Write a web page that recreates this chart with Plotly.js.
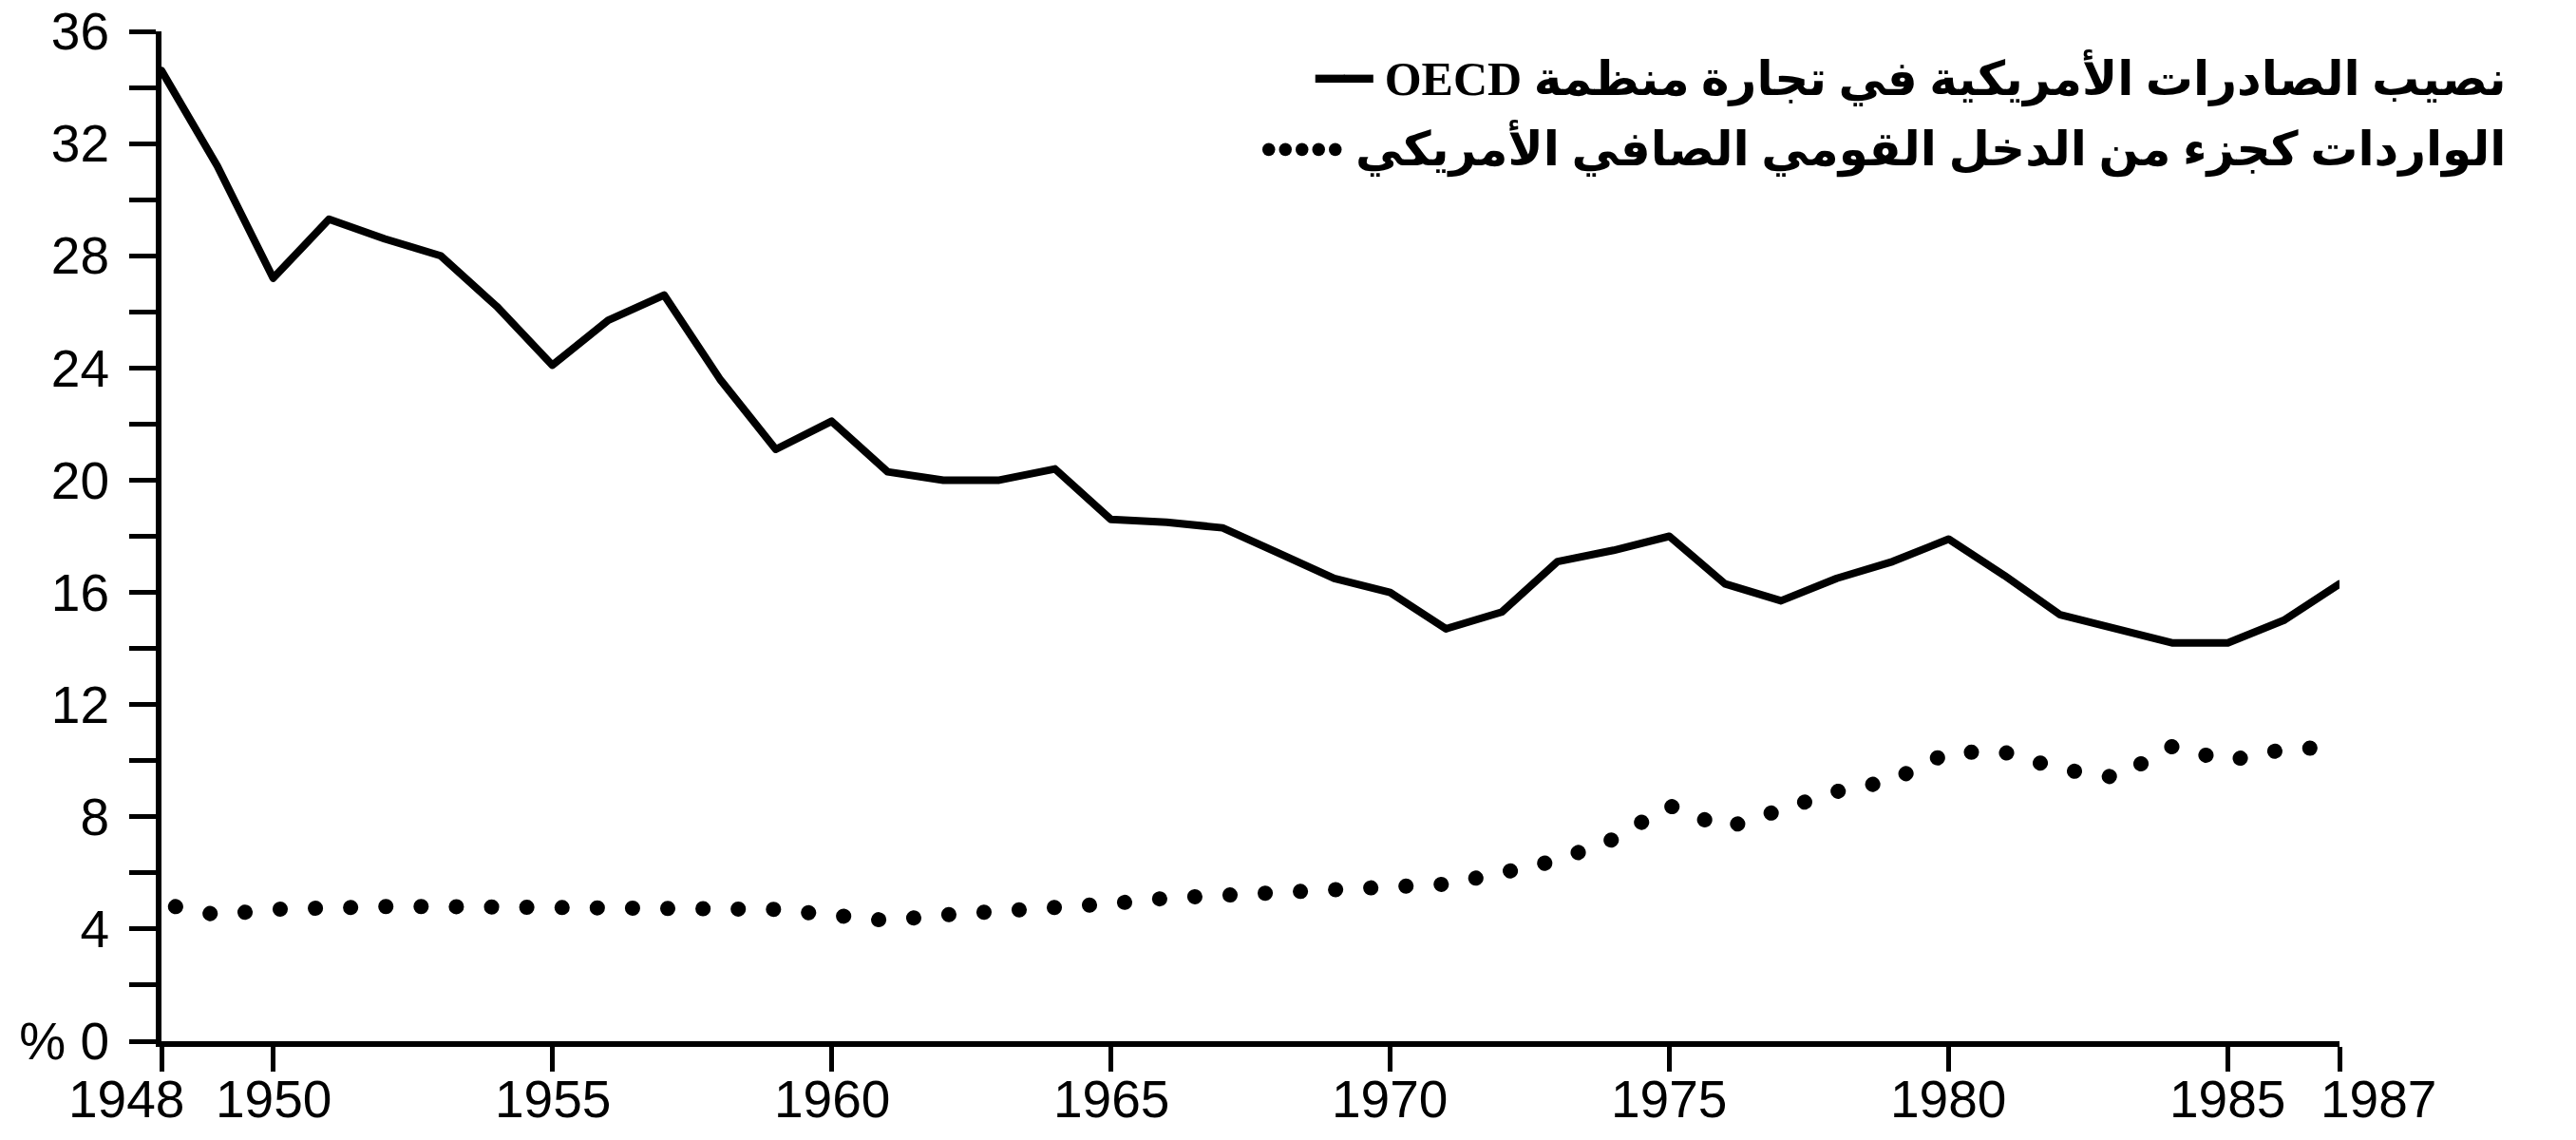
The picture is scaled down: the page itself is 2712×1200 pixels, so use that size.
<!DOCTYPE html>
<html><head><meta charset="utf-8">
<script src="https://cdn.plot.ly/plotly-3.0.1.min.js"></script>
<style>
html,body{margin:0;padding:0;background:#fff;}
#chart{width:2712px;height:1200px;}
.scatterlayer .js-line{stroke-linecap:round;stroke-linejoin:round;}
.scatterlayer .trace:nth-child(2) .js-line{stroke-dashoffset:22px;}
</style></head><body><div id="chart"></div>
<script>
const years = [1948,1949,1950,1951,1952,1953,1954,1955,1956,1957,1958,1959,1960,1961,1962,1963,1964,1965,1966,1967,1968,1969,1970,1971,1972,1973,1974,1975,1976,1977,1978,1979,1980,1981,1982,1983,1984,1985,1986,1987];
const exportShare = [34.6,31.2,27.2,29.3,28.6,28.0,26.2,24.1,25.7,26.6,23.6,21.1,22.1,20.3,20.0,20.0,20.4,18.6,18.5,18.3,17.4,16.5,16.0,14.7,15.3,17.1,17.5,18.0,16.3,15.7,16.5,17.1,17.9,16.6,15.2,14.7,14.2,14.2,15.0,16.3];
const importShare = [4.9,4.5,4.7,4.8,4.8,4.8,4.8,4.7,4.8,4.7,4.7,4.7,4.5,4.3,4.5,4.6,4.7,4.9,5.1,5.2,5.3,5.4,5.5,5.6,6.0,6.45,7.2,8.4,7.6,8.3,8.9,9.3,10.3,10.3,9.7,9.4,10.5,10.0,10.4,10.5];
const xTickVals = [1948,1950,1955,1960,1965,1970,1975,1980,1985,1987];
const xTickText = ['1948','1950','1955','1960','1965','1970','1975','1980','1985','1987'];
const yTickVals = [0,4,8,12,16,20,24,28,32,36];
const yTickText = ['% 0','4','8','12','16','20','24','28','32','36'];
const legendExports = '━━ OECD نصيب الصادرات الأمريكية في تجارة منظمة';
const legendImports = '••••• الواردات كجزء من الدخل القومي الصافي الأمريكي';

const traces = [
  {x: years, y: exportShare, type: 'scatter', mode: 'lines', name: legendExports,
   line: {color: '#000', width: 8}, hoverinfo: 'skip'},
  {x: years, y: importShare, type: 'scatter', mode: 'lines', name: legendImports,
   line: {color: '#000', width: 16, dash: '0.1px,37px'}, hoverinfo: 'skip'}
];

const tickFont = {family: 'Liberation Sans, Arial, sans-serif', size: 55, color: '#000'};
const legendFont = {family: 'Liberation Serif, DejaVu Sans, serif', size: 50, color: '#000', weight: 'bold'};

// x tick labels as annotations on the x scale (end labels nudged apart as in the source)
const xLabelAnn = xTickVals.map((v, i) => {
  const first = i === 0, last = i === xTickVals.length - 1;
  return {xref: 'x', yref: 'paper', x: v, y: 0, yanchor: 'top',
    xanchor: first ? 'right' : (last ? 'left' : 'center'),
    xshift: first ? 26 : (last ? -22 : 0), yshift: -28,
    text: xTickText[i], showarrow: false, font: tickFont};
});

const layout = {
  width: 2712, height: 1200,
  margin: {l: 170, r: 249, t: 33, b: 104},
  paper_bgcolor: '#fff', plot_bgcolor: '#fff',
  showlegend: false,
  xaxis: {range: [1948, 1987], tickmode: 'array', tickvals: xTickVals, showticklabels: false,
    showgrid: false, zeroline: false, showline: true, linecolor: '#000', linewidth: 6,
    ticks: 'outside', ticklen: 26, tickwidth: 5, tickcolor: '#000', fixedrange: true},
  yaxis: {range: [0, 36], tickmode: 'array', tickvals: yTickVals, ticktext: yTickText,
    showgrid: false, zeroline: false, showline: true, linecolor: '#000', linewidth: 6,
    ticks: 'outside', ticklen: 28, tickwidth: 5, tickcolor: '#000', tickfont: tickFont,
    ticklabelstandoff: 10,
    minor: {tickmode: 'linear', tick0: 2, dtick: 4, ticks: 'outside', ticklen: 28, tickwidth: 5, tickcolor: '#000'},
    fixedrange: true},
  annotations: [
    {xref: 'paper', yref: 'paper', x: 1.077, y: 0.953, xanchor: 'right', yanchor: 'middle',
     text: legendExports, showarrow: false, font: legendFont},
    {xref: 'paper', yref: 'paper', x: 1.077, y: 0.884, xanchor: 'right', yanchor: 'middle',
     text: legendImports, showarrow: false, font: legendFont}
  ].concat(xLabelAnn)
};
Plotly.newPlot('chart', traces, layout, {displayModeBar: false, staticPlot: true});
</script></body></html>
